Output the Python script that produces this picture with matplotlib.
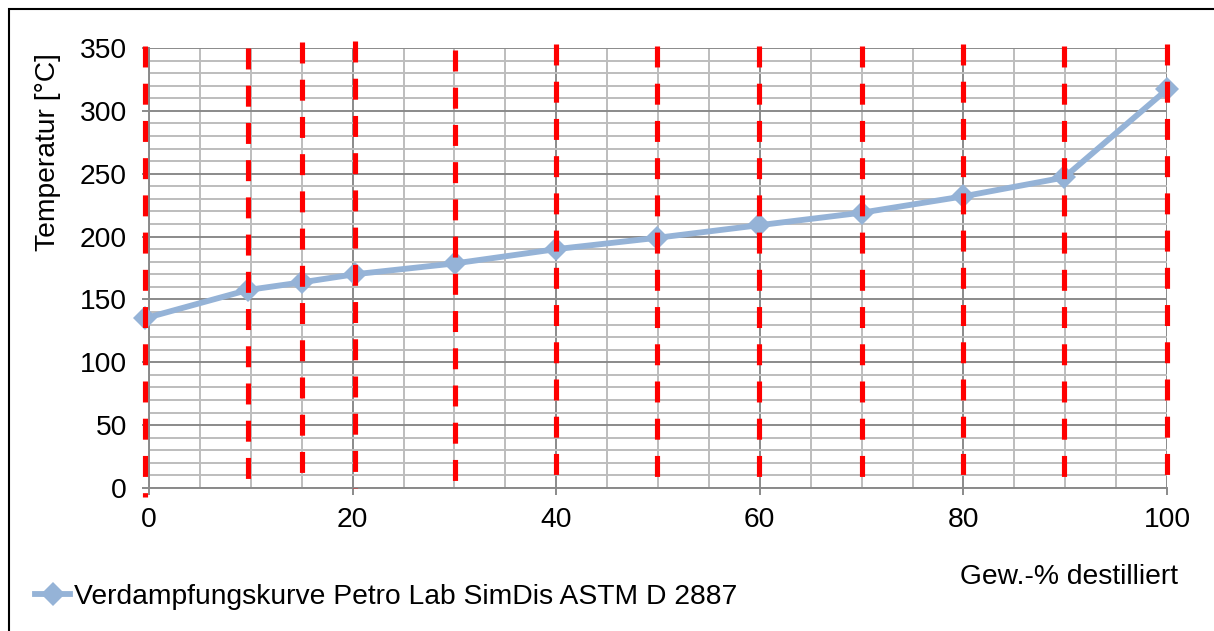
import matplotlib
matplotlib.use("Agg")
import matplotlib.pyplot as plt
from matplotlib.ticker import MultipleLocator
from matplotlib.patches import Rectangle

plt.rcParams["font.family"] = ["Liberation Sans", "DejaVu Sans"]
plt.rcParams["lines.scale_dashes"] = False

# Distillation curve (SimDis ASTM D 2887)
pct_distilled = [-0.4, 9.7, 15.0, 20.2, 30.1, 40.0, 49.9, 59.9, 70.0, 80.0, 89.9, 100.0]
temperature = [135, 157.5, 163.6, 170, 178.7, 190, 199, 209, 219, 232, 247, 317]
# upper/lower ends of the red marker lines at each cut point
marker_top = [351.6, 350.0, 354.8, 355.6, 348.4, 353.2, 351.6, 351.6, 351.6, 353.2, 351.6, 353.2]
marker_bottom = [-7, 0, 0, 0, 0, 0, 0, 0, 0, 0, 0, 0]

series_label = "Verdampfungskurve Petro Lab SimDis ASTM D 2887"
x_label = "Gew.-% destilliert"
y_label = "Temperatur [°C]"

W, H = 1214, 631
fig = plt.figure(figsize=(W / 100, H / 100), dpi=100)
ax = fig.add_axes([149 / W, 1 - 488 / H, 1018 / W, 440 / H])

FS = 20.3
major_c = "#8a8a8a"
minor_c = "#bdbdbd"

ax.set_xlim(0, 100)
ax.set_ylim(0, 350)
ax.xaxis.set_major_locator(MultipleLocator(20))
ax.xaxis.set_minor_locator(MultipleLocator(5))
ax.yaxis.set_major_locator(MultipleLocator(50))
ax.yaxis.set_minor_locator(MultipleLocator(10))
ax.grid(which="minor", color=minor_c, linewidth=1.4, zorder=0)
ax.grid(which="major", color=major_c, linewidth=1.4, zorder=0)
ax.set_axisbelow(True)

for s in ("top", "right"):
    ax.spines[s].set_visible(False)
for s in ("left", "bottom"):
    ax.spines[s].set_color(major_c)
    ax.spines[s].set_linewidth(1.4)

ax.tick_params(which="major", direction="out", length=5, width=1.4, color=major_c,
               labelsize=FS, labelcolor="black")
ax.tick_params(axis="y", which="major", pad=11)
ax.tick_params(axis="x", which="major", pad=9)
ax.tick_params(which="minor", length=0)

# main curve
line, = ax.plot(pct_distilled, temperature, color="#95b3d7", linewidth=4.2,
                marker="D", markersize=12, markeredgewidth=0, clip_on=False,
                zorder=3, label=series_label)

# red dashed marker lines at each cut point
for x, top, bot in zip(pct_distilled, marker_top, marker_bottom):
    ax.plot([x, x], [top, bot], color="#ff0000", linewidth=3.7,
            dashes=(15.1, 11.7), dash_capstyle="butt", solid_capstyle="butt",
            clip_on=False, zorder=4)

fig.text(48 / W, 1 - 152 / H, y_label, rotation=90, fontsize=FS,
         ha="center", va="center")
fig.text(1178 / W, 1 - 577 / H, x_label, fontsize=FS, ha="right", va="center")

fig.legend(handles=[line], loc="center left",
           bbox_to_anchor=(35 / W, 1 - 597 / H), frameon=False,
           fontsize=FS, handlelength=1.25, handletextpad=0.12,
           borderpad=0, borderaxespad=0, markerscale=1.0)

# chart border
fig.add_artist(Rectangle((8.5 / W, -0.2), 1.5, 0.2 + (H - 9) / H,
                         transform=fig.transFigure, fill=False,
                         edgecolor="black", linewidth=1.5))

fig.savefig("out.png", dpi=100)
